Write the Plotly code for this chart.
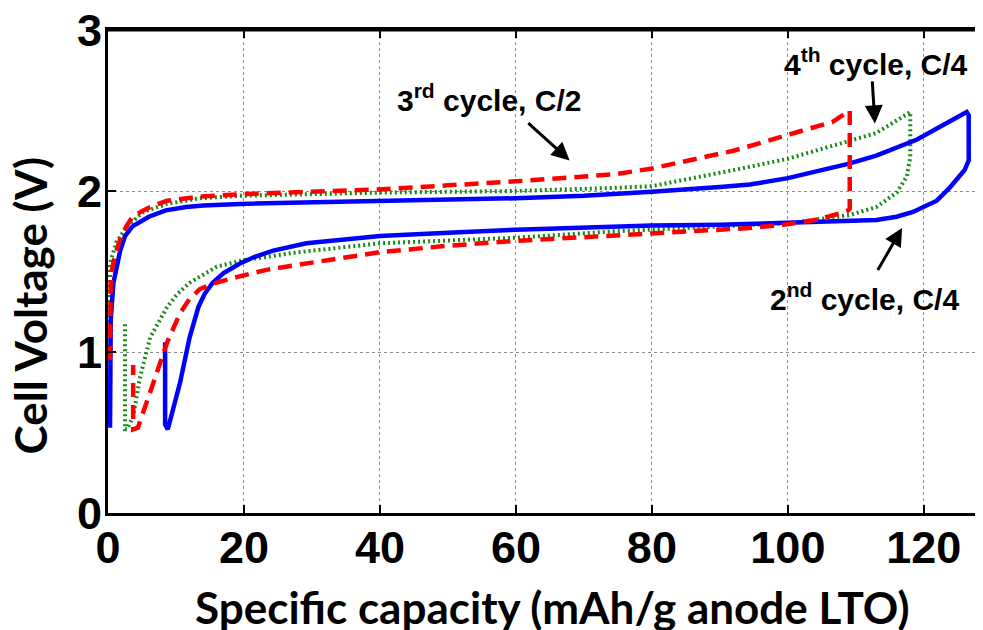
import plotly.graph_objects as go

# ---- data ----
# 2nd cycle, C/4 (blue, solid)
c2_x = [0.3, 0.3, 0.4, 0.8, 1.8, 2.5, 3.6, 6.0, 8.5, 11.5, 14, 19.4, 30, 40, 50, 60, 70, 74.8, 80, 90, 94.4,
        100, 109, 113, 119, 126.3, 126.6, 126.6, 126.0, 123.8, 121.9, 118.4, 116, 113, 100, 90, 80, 74.8,
        60, 50, 40, 29.2, 24.3, 21.5, 19.4, 17.0, 15.4, 14.2, 13.3, 12.0, 10.6, 8.8, 8.4, 8.4]
c2_y = [0.53, 0.90, 1.20, 1.43, 1.63, 1.72, 1.78, 1.84, 1.88, 1.90, 1.91, 1.92, 1.928, 1.935, 1.945, 1.955, 1.97, 1.98, 1.995, 2.025, 2.04,
        2.08, 2.17, 2.22, 2.32, 2.49, 2.47, 2.19, 2.13, 2.02, 1.94, 1.87, 1.84, 1.82, 1.80, 1.79, 1.785, 1.78,
        1.76, 1.74, 1.72, 1.675, 1.63, 1.59, 1.55, 1.49, 1.43, 1.36, 1.28, 1.09, 0.81, 0.52, 0.55, 1.06]

# 3rd cycle, C/2 (red, dashed)
c3_x = [0.3, 0.4, 0.4, 1.0, 1.8, 2.7, 3.6, 5.0, 6.2, 8.7, 13.5, 19.4, 28, 40, 50, 60, 74.8, 80, 92, 100, 106.6, 109.1,
        109.1, 108.7, 107.6, 104, 99.3, 94.4, 90, 80, 74.8, 60, 50, 40, 33, 28.2, 23.3, 18.4, 15.5, 13.5, 12.0, 10.6, 8.7, 6.2, 4.4, 3.7, 3.7]
c3_y = [0.95, 1.30, 1.47, 1.60, 1.70, 1.78, 1.84, 1.875, 1.90, 1.94, 1.965, 1.98, 1.995, 2.01, 2.035, 2.06, 2.105, 2.14, 2.25, 2.35, 2.43, 2.50,
        1.89, 1.875, 1.86, 1.82, 1.79, 1.77, 1.76, 1.74, 1.73, 1.69, 1.66, 1.62, 1.575, 1.54, 1.51, 1.46, 1.425, 1.39, 1.33, 1.24, 1.06, 0.75, 0.53, 0.52, 0.92]

# 4th cycle, C/4 (green, dotted)
c4_x = [0.2, 0.3, 0.3, 1.2, 2.8, 5.2, 8.7, 13.5, 19.4, 40, 60, 74.8, 80, 92, 100, 113, 118,
        118, 117.8, 117.5, 116, 113, 109, 104, 100, 90, 80, 74.8, 60, 40, 28, 19.9, 16, 12, 10.2, 8.7, 6.2, 4.7, 3.7, 2.8, 2.5, 2.5]
c4_y = [1.00, 1.35, 1.55, 1.68, 1.78, 1.87, 1.92, 1.955, 1.97, 1.99, 2.00, 2.02, 2.03, 2.13, 2.20, 2.36, 2.49,
        2.21, 2.15, 2.09, 1.99, 1.90, 1.85, 1.82, 1.80, 1.78, 1.76, 1.75, 1.71, 1.675, 1.62, 1.57, 1.53, 1.43, 1.36, 1.28, 1.09, 0.84, 0.60, 0.52, 0.52, 1.18]

x_ticks = [0, 20, 40, 60, 80, 100, 120]
y_ticks = [0, 1, 2, 3]

labels = ["3<sup>rd</sup> cycle, C/2", "4<sup>th</sup> cycle, C/4", "2<sup>nd</sup> cycle, C/4"]
label_x = [56.0, 112.9, 111.3]
label_y = [2.58, 2.80, 1.34]
arrow_tail_x = [61.6, 112.4, 113.1]
arrow_tail_y = [2.43, 2.69, 1.50]
arrow_tip_x = [67.9, 112.8, 116.8]
arrow_tip_y = [2.19, 2.42, 1.77]

x_title = "Specific capacity (mAh/g anode LTO)"
y_title = "Cell Voltage (V)"

fig = go.Figure()
fig.add_trace(go.Scatter(x=c4_x, y=c4_y, mode="lines",
                         line=dict(color="#168a16", width=4, dash="2px,3px"), name="4th"))
fig.add_trace(go.Scatter(x=c2_x, y=c2_y, mode="lines",
                         line=dict(color="#0000ff", width=4.5), name="2nd"))
fig.add_trace(go.Scatter(x=c3_x, y=c3_y, mode="lines",
                         line=dict(color="#ff0000", width=4.5, dash="14px,8px"), name="3rd"))

for t, tx, ty in zip(labels, label_x, label_y):
    fig.add_annotation(x=tx, y=ty, text=t, showarrow=False,
                       font=dict(family="Liberation Sans, Arial", size=30, color="black", weight="bold"))
for ax_, ay_, x_, y_ in zip(arrow_tail_x, arrow_tail_y, arrow_tip_x, arrow_tip_y):
    fig.add_annotation(x=x_, y=y_, ax=ax_, ay=ay_, axref="x", ayref="y", text="",
                       showarrow=True, arrowhead=2, arrowsize=1.2, arrowwidth=3, arrowcolor="black")

titlefont = dict(family="Lato, Open Sans", size=44, color="black", weight="bold")
# axis titles placed as paper annotations (reference offsets them from the axis centres)
fig.add_annotation(xref="paper", yref="paper", x=0.508, y=-0.195, text=x_title, showarrow=False,
                   xanchor="center", yanchor="middle", font=titlefont)
fig.add_annotation(xref="paper", yref="paper", x=-0.089, y=0.43, text=y_title, showarrow=False,
                   textangle=-90, xanchor="center", yanchor="middle", font=titlefont)

# top frame line of the axes box
fig.add_shape(type="line", xref="paper", yref="paper", x0=0, x1=1, y0=1, y1=1,
              line=dict(color="black", width=3), layer="above")

tickfont = dict(family="Liberation Sans, Arial", size=45, color="black", weight="bold")

# page body has an 8px margin, so the figure is sized/offset to compensate
fig.update_layout(
    width=975, height=622,
    margin=dict(l=100, r=0, t=22, b=117),
    paper_bgcolor="white", plot_bgcolor="white",
    showlegend=False,
    xaxis=dict(range=[0, 128.7], tickvals=x_ticks, tickfont=tickfont, automargin=False,
               showline=True, linecolor="black", linewidth=3, mirror="ticks",
               ticks="inside", ticklen=8, tickwidth=1.5, tickcolor="black",
               ticklabelstandoff=-7, ticklabeloverflow="allow",
               showgrid=True, gridcolor="#8c8c8c", griddash="dot", gridwidth=1,
               zeroline=False),
    yaxis=dict(range=[0, 3], tickvals=y_ticks, tickfont=tickfont, automargin=False,
               showline=True, linecolor="black", linewidth=3, mirror=False,
               ticks="inside", ticklen=8, tickwidth=1.5, tickcolor="black",
               ticklabelstandoff=-6, ticklabeloverflow="allow",
               showgrid=True, gridcolor="#8c8c8c", griddash="dot", gridwidth=1,
               zeroline=False),
)

fig.write_html("out.html")
